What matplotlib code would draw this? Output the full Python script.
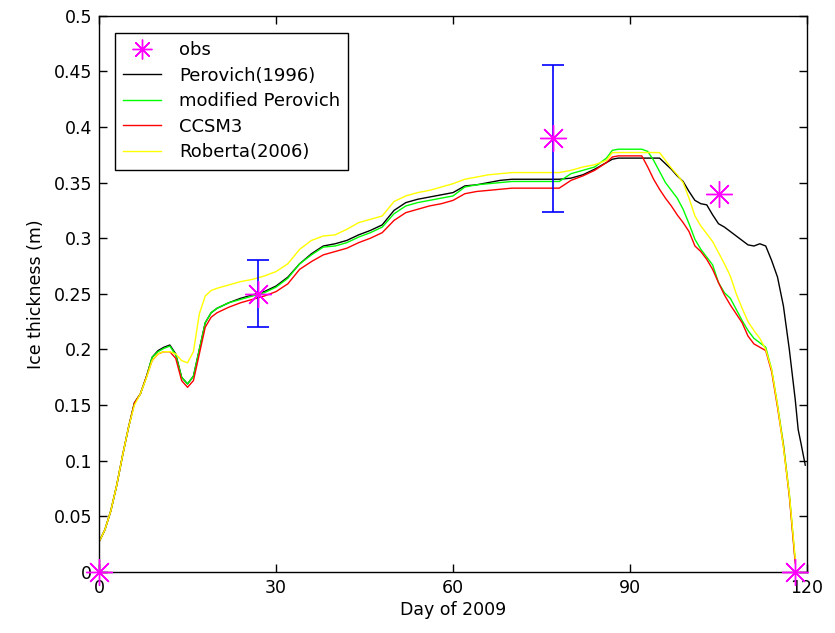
import numpy as np
import matplotlib
matplotlib.use("Agg")
import matplotlib.pyplot as plt

nan = np.nan

# ── Data ──────────────────────────────────────────────────────────────────────
days = [0, 1, 2, 3, 4, 5, 6, 7, 8, 9, 10, 11, 12, 13, 14, 15, 16, 17, 18, 19, 20,
        22, 24, 26, 28, 30, 32, 34, 36, 38, 40, 42, 44, 46, 48, 50, 52, 54, 56, 58,
        60, 62, 64, 66, 68, 70, 72, 74, 76, 78, 80, 82, 84, 86,
        87, 88, 90,
        92, 93, 94, 95, 96, 97, 98, 99, 100, 101, 102, 103, 104, 105, 106, 107,
        108, 109, 110, 111, 112, 113, 114, 115, 116, 117, 118,
        118.5, 119, 119.7]

perovich = [0.027, 0.038, 0.055, 0.078, 0.105, 0.13, 0.152, 0.16, 0.175, 0.193, 0.199,
            0.202, 0.204, 0.196, 0.175, 0.169, 0.176, 0.2, 0.224, 0.233, 0.237,
            0.242, 0.246, 0.249, 0.252, 0.257, 0.265, 0.277, 0.286, 0.293, 0.295,
            0.298, 0.303, 0.307, 0.312, 0.325, 0.332, 0.335, 0.337, 0.339, 0.341,
            0.347, 0.348, 0.35, 0.352, 0.353, 0.353, 0.353, 0.353, 0.353, 0.354,
            0.357, 0.362, 0.368,
            0.371, 0.372, 0.372,
            0.372, 0.372, 0.372, 0.372, 0.367, 0.362, 0.356, 0.351, 0.342, 0.334,
            0.331, 0.33, 0.321, 0.313, 0.31, 0.306, 0.302, 0.298, 0.294, 0.293,
            0.295, 0.293, 0.28, 0.265, 0.239, 0.2, 0.155,
            0.128, 0.115, 0.096]

mod_perovich = [0.027, 0.038, 0.055, 0.078, 0.105, 0.13, 0.152, 0.16, 0.175, 0.193, 0.198,
                0.201, 0.203, 0.195, 0.175, 0.169, 0.176, 0.2, 0.224, 0.233, 0.237,
                0.242, 0.245, 0.248, 0.251, 0.256, 0.264, 0.277, 0.285, 0.292, 0.293,
                0.296, 0.301, 0.305, 0.31, 0.322, 0.329, 0.332, 0.334, 0.336, 0.338,
                0.346, 0.348, 0.349, 0.35, 0.351, 0.351, 0.351, 0.351, 0.351, 0.358,
                0.361, 0.364, 0.372,
                0.379, 0.38, 0.38,
                0.38, 0.378, 0.37, 0.36, 0.35, 0.343, 0.336, 0.326, 0.313, 0.299,
                0.29, 0.283, 0.276, 0.26, 0.251, 0.246, 0.236, 0.226, 0.217, 0.21,
                0.206, 0.202, 0.182, 0.15, 0.115, 0.07, 0.01,
                nan, nan, nan]

ccsm3 = [0.027, 0.038, 0.055, 0.078, 0.105, 0.13, 0.152, 0.16, 0.175, 0.19, 0.196,
         0.198, 0.198, 0.192, 0.172, 0.166, 0.172, 0.196, 0.22, 0.229, 0.233,
         0.238, 0.242, 0.245, 0.248, 0.252, 0.259, 0.272, 0.279, 0.285, 0.288,
         0.291, 0.296, 0.3, 0.305, 0.316, 0.323, 0.326, 0.329, 0.331, 0.334,
         0.34, 0.342, 0.343, 0.344, 0.345, 0.345, 0.345, 0.345, 0.345, 0.352,
         0.356, 0.361, 0.368,
         0.373, 0.374, 0.374,
         0.374, 0.364, 0.353, 0.344, 0.336, 0.329, 0.321, 0.314, 0.306, 0.293,
         0.288, 0.281, 0.272, 0.26, 0.249, 0.24, 0.232, 0.224, 0.212, 0.205,
         0.202, 0.199, 0.18, 0.148, 0.113, 0.068, 0.008,
         nan, nan, nan]

roberta = [0.027, 0.038, 0.055, 0.078, 0.105, 0.13, 0.15, 0.16, 0.174, 0.19, 0.196,
           0.198, 0.198, 0.196, 0.19, 0.188, 0.198, 0.232, 0.248, 0.253, 0.255,
           0.258, 0.261, 0.263, 0.266, 0.27, 0.277, 0.29, 0.298, 0.302, 0.303,
           0.308, 0.314, 0.317, 0.32, 0.333, 0.338, 0.341, 0.343, 0.346, 0.349,
           0.353, 0.355, 0.357, 0.358, 0.359, 0.359, 0.359, 0.359, 0.359, 0.361,
           0.364, 0.366, 0.37,
           0.377, 0.377, 0.377,
           0.377, 0.377, 0.377, 0.377, 0.37, 0.363, 0.357, 0.35, 0.336, 0.32,
           0.311, 0.304, 0.297, 0.287, 0.277, 0.266, 0.25, 0.237, 0.225, 0.217,
           0.21, 0.2, 0.182, 0.15, 0.112, 0.07, 0.012,
           nan, nan, nan]

obs_day = [0, 27, 77, 105, 118]
obs_thk = [0.0, 0.25, 0.39, 0.34, 0.0]

err_day = [27, 77]
err_thk = [0.25, 0.39]
err_size = [0.03, 0.066]

# ── Figure ────────────────────────────────────────────────────────────────────
plt.rcParams["font.family"] = "DejaVu Sans"
plt.rcParams["font.size"] = 12.5

fig = plt.figure(figsize=(8.35, 6.33), dpi=100)
ax = fig.add_axes([0.1186, 0.0964, 0.8479, 0.8788])

star = (8, 2, 0)
ax.plot(obs_day, obs_thk, linestyle="none", marker=star, markersize=19,
        markeredgewidth=1.0, color="#ff00ff", clip_on=False, zorder=5,
        label="obs")
ax.plot(days, perovich, color="black", lw=1.0, label="Perovich(1996)")
ax.plot(days, mod_perovich, color="#00ff00", lw=1.0, label="modified Perovich")
ax.plot(days, ccsm3, color="#ff0000", lw=1.0, label="CCSM3")
ax.plot(days, roberta, color="#ffff00", lw=1.0, label="Roberta(2006)")
ax.errorbar(err_day, err_thk, yerr=err_size, fmt="none", ecolor="#0000ff",
            elinewidth=1.2, capsize=8, capthick=1.2, zorder=4)

ax.set_xlim(0, 120)
ax.set_ylim(0, 0.5)
ax.set_xticks([0, 30, 60, 90, 120])
ax.set_yticks([0, 0.05, 0.1, 0.15, 0.2, 0.25, 0.3, 0.35, 0.4, 0.45, 0.5])
ax.set_yticklabels(["0", "0.05", "0.1", "0.15", "0.2", "0.25", "0.3", "0.35",
                    "0.4", "0.45", "0.5"])
ax.tick_params(direction="in", length=6, width=1, top=True, right=True,
               labelsize=12.5, pad=5)
for s in ax.spines.values():
    s.set_linewidth(1.0)

ax.set_xlabel("Day of 2009", fontsize=12.5, labelpad=3)
ax.set_ylabel("Ice thickness (m)", fontsize=12.5, labelpad=6)

leg = ax.legend(loc="upper left", bbox_to_anchor=(0.0226, 0.969),
                borderaxespad=0, fancybox=False, framealpha=1,
                edgecolor="black", handlelength=2.1, labelspacing=0.42,
                handletextpad=1.0, markerscale=0.75, borderpad=0.45,
                fontsize=13)
leg.get_frame().set_linewidth(1.0)

fig.savefig("out.png", dpi=100)
